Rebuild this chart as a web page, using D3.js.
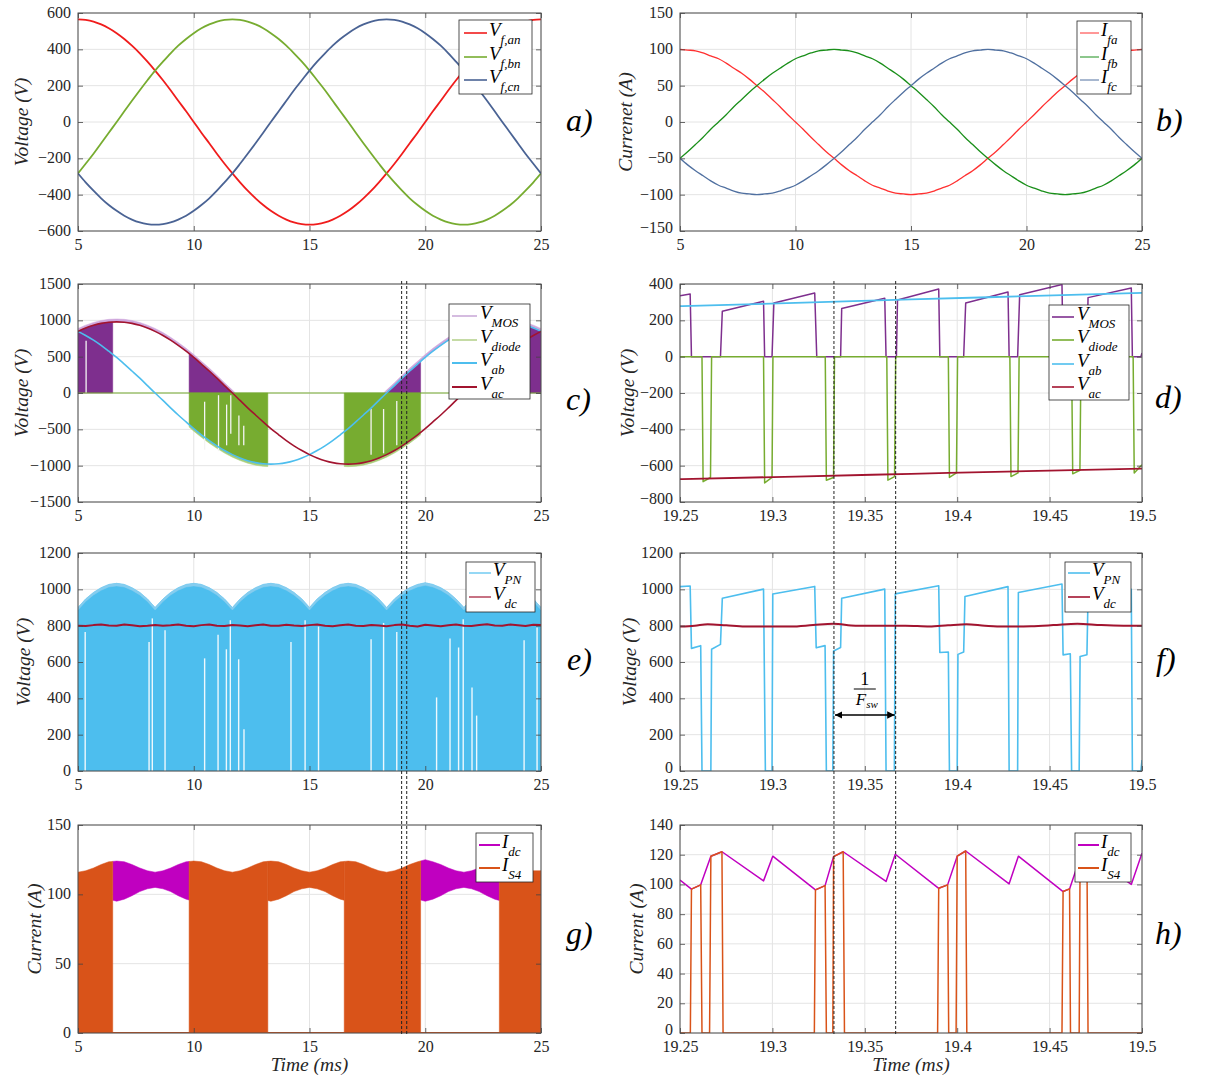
<!DOCTYPE html>
<html><head><meta charset="utf-8">
<script src="https://cdn.jsdelivr.net/npm/d3@7"></script>
<style>body{margin:0;background:#fff}svg{display:block}</style>
</head><body>
<svg id="chart" width="1206" height="1077"></svg>
<script>
// ---------------- DATA ----------------
// time grid (ms) for panels a, b, c, e, g
const tA = [5,5.33,5.67,6,6.33,6.67,7,7.33,7.67,8,8.33,8.67,9,9.33,9.67,10,10.33,10.67,11,11.33,11.67,12,12.33,12.67,13,13.33,13.67,14,14.33,14.67,15,15.33,15.67,16,16.33,16.67,17,17.33,17.67,18,18.33,18.67,19,19.33,19.67,20,20.33,20.67,21,21.33,21.67,22,22.33,22.67,23,23.33,23.67,24,24.33,24.67,25];

// a) filter phase voltages (V)
const vfAn = [565,562,553,537,516,489,457,420,378,332,283,230,175,117,59,0,-59,-117,-175,-230,-283,-332,-378,-420,-457,-489,-516,-537,-553,-562,-565,-562,-553,-537,-516,-489,-457,-420,-378,-332,-283,-230,-175,-117,-59,0,59,117,175,230,283,332,378,420,457,489,516,537,553,562,565];
const vfBn = [-283,-230,-175,-117,-59,0,59,117,175,230,283,332,378,420,457,489,516,537,553,562,565,562,553,537,516,489,457,420,378,332,283,230,175,117,59,0,-59,-117,-175,-230,-283,-332,-378,-420,-457,-489,-516,-537,-553,-562,-565,-562,-553,-537,-516,-489,-457,-420,-378,-332,-283];
const vfCn = [-283,-332,-378,-420,-457,-489,-516,-537,-553,-562,-565,-562,-553,-537,-516,-489,-457,-420,-378,-332,-283,-230,-175,-117,-59,0,59,117,175,230,283,332,378,420,457,489,516,537,553,562,565,562,553,537,516,489,457,420,378,332,283,230,175,117,59,0,-59,-117,-175,-230,-283];

// b) filter currents (A)
const ifA = [100,99,98,95,91,87,81,74,67,59,50,41,31,21,10,0,-10,-21,-31,-41,-50,-59,-67,-74,-81,-87,-91,-95,-98,-99,-100,-99,-98,-95,-91,-87,-81,-74,-67,-59,-50,-41,-31,-21,-10,0,10,21,31,41,50,59,67,74,81,87,91,95,98,99,100];
const ifB = [-50,-41,-31,-21,-10,0,10,21,31,41,50,59,67,74,81,87,91,95,98,99,100,99,98,95,91,87,81,74,67,59,50,41,31,21,10,0,-10,-21,-31,-41,-50,-59,-67,-74,-81,-87,-91,-95,-98,-99,-100,-99,-98,-95,-91,-87,-81,-74,-67,-59,-50];
const ifC = [-50,-59,-67,-74,-81,-87,-91,-95,-98,-99,-100,-99,-98,-95,-91,-87,-81,-74,-67,-59,-50,-41,-31,-21,-10,0,10,21,31,41,50,59,67,74,81,87,91,95,98,99,100,99,98,95,91,87,81,74,67,59,50,41,31,21,10,0,-10,-21,-31,-41,-50];

// c) line-to-line voltages (V)
const vAb = [848,792,727,655,575,490,398,303,204,102,0,-102,-204,-303,-398,-490,-575,-655,-727,-792,-848,-894,-931,-958,-974,-979,-974,-958,-931,-894,-848,-792,-727,-655,-575,-490,-398,-303,-204,-102,0,102,204,303,398,490,575,655,727,792,848,894,931,958,974,979,974,958,931,894,848];
const vAc = [848,894,931,958,974,979,974,958,931,894,848,792,727,655,575,490,398,303,204,102,0,-102,-204,-303,-398,-490,-575,-655,-727,-792,-848,-894,-931,-958,-974,-979,-974,-958,-931,-894,-848,-792,-727,-655,-575,-490,-398,-303,-204,-102,0,102,204,303,398,490,575,655,727,792,848];
// c) switching blocks (dense PWM shown as filled regions)
const mosBlockStart = [5, 9.8, 18.35, 24.2];
const mosBlockEnd   = [6.5, 11.75, 19.8, 25];
const mosBlockRef   = ['ac','ac','ab','ab'];
const mosFuzzStart = [5, 18.2];
const mosFuzzEnd   = [11.8, 25];
const mosFuzzRef   = ['ac','ab'];
const mosFuzz = 40;
const diodeBlockStart = [9.8, 16.5];
const diodeBlockEnd   = [13.2, 19.8];
const diodeBlockRef   = ['ab','ac'];
const diodeFuzz = 35;
const cGaps = [[5.35,720,0],[10.47,-120,-780],[11.07,-30,-800],[11.42,-160,-720],[11.6,-30,-560],[11.95,-310,-720],[12.16,-450,-720],[17.66,-220,-850],[18.2,-220,-830],[18.77,-110,-720]];

// d) zoomed switching voltages [t (ms), V]
const dMos = [[19.25,335],[19.2555,345],[19.2562,0],[19.2719,0],[19.2729,250],[19.2952,305],[19.2958,0],[19.2998,0],[19.3008,295],[19.3229,350],[19.324,0],[19.3369,0],[19.3375,265],[19.3608,322],[19.3615,0],[19.3671,0],[19.3677,312],[19.39,372],[19.3906,0],[19.4035,0],[19.4046,295],[19.4275,356],[19.4281,0],[19.4327,0],[19.4338,341],[19.4567,397],[19.4573,0],[19.4702,0],[19.4708,325],[19.4942,378],[19.4948,0],[19.4994,0],[19.5,20]];
const dDiode = [[19.25,0],[19.2619,0],[19.2625,-688],[19.2665,-665],[19.2671,0],[19.2952,0],[19.2958,-695],[19.2998,-665],[19.3003,0],[19.3286,0],[19.3292,-680],[19.3331,-665],[19.3336,0],[19.3619,0],[19.3625,-680],[19.3661,-660],[19.3667,0],[19.3952,0],[19.3958,-665],[19.3996,-640],[19.4002,0],[19.4285,0],[19.4291,-660],[19.4329,-640],[19.4335,0],[19.4619,0],[19.4625,-645],[19.4664,-625],[19.467,0],[19.4952,0],[19.4958,-640],[19.5,-595]];
const dAb = [[19.25,278],[19.3125,296],[19.375,315],[19.4375,333],[19.5,351]];
const dAc = [[19.25,-674],[19.3125,-660],[19.375,-645],[19.4375,-630],[19.5,-616]];

// e) DC-link voltages
const vpnEnv = [900,947,983,1009,1027,1033,1027,1009,983,947,900,947,983,1009,1027,1033,1027,1009,983,947,900,947,983,1009,1027,1033,1027,1009,983,947,900,947,983,1009,1027,1033,1027,1009,983,947,900,947,983,1009,1027,1036,1027,1009,983,947,900,947,983,1009,1027,1033,1027,1009,983,947,900];
const vdcE = [800,798,803,806,801,799,807,802,797,800,804,799,802,806,800,797,803,807,800,798,804,801,797,802,806,799,800,805,801,798,803,807,799,797,802,806,800,798,804,801,797,803,806,799,795,805,801,797,802,806,800,798,804,808,801,799,806,802,798,805,803];
const eGaps = [[5.31,765],[8.07,710],[8.21,840],[8.76,775],[10.47,620],[11.05,750],[11.41,670],[11.58,830],[11.94,615],[12.17,230],[14.2,710],[14.81,830],[15.39,795],[17.66,725],[18.2,815],[18.77,765],[20.49,405],[21.07,730],[21.44,680],[21.64,835],[22.02,460],[22.22,305],[24.27,720],[24.83,790]];

// f) zoomed DC-link voltages [t, V]
const fPn = [[19.25,1015],[19.2555,1018],[19.2562,675],[19.2612,690],[19.2619,0],[19.2667,0],[19.2671,670],[19.2719,697],[19.2729,951],[19.2952,1001],[19.2962,0],[19.2998,0],[19.3002,974],[19.3229,1016],[19.3237,678],[19.3285,690],[19.3292,0],[19.3327,0],[19.3331,661],[19.3369,680],[19.3375,951],[19.3608,1001],[19.3615,0],[19.366,0],[19.3665,975],[19.39,1020],[19.3906,652],[19.3952,655],[19.3958,0],[19.4,0],[19.4004,642],[19.4035,655],[19.4042,961],[19.4275,1015],[19.4281,0],[19.4327,0],[19.4331,983],[19.4567,1029],[19.4573,639],[19.4612,645],[19.4619,0],[19.466,0],[19.4665,630],[19.4702,640],[19.4708,960],[19.4942,1000],[19.4948,0],[19.4994,0],[19.5,60]];
const fDc = [[19.25,795],[19.258,800],[19.265,808],[19.275,802],[19.285,795],[19.3,796],[19.31,795],[19.322,803],[19.333,810],[19.345,800],[19.36,799],[19.372,800],[19.385,795],[19.395,802],[19.405,808],[19.415,800],[19.425,795],[19.44,797],[19.452,803],[19.465,811],[19.478,803],[19.49,800],[19.5,800]];

// g) currents
const idcUpper = [116,117,119,121.5,123.5,124,123.5,121.5,119,117,116,117,119,121.5,123.5,124,123.5,121.5,119,117,116,117,119,121.5,123.5,124,123.5,121.5,119,117,116,117,119,121.5,123.5,124,123.5,121.5,119,117,116,117,119,121.5,123.5,125,123.5,121.5,119,117,116,117,119,121.5,123.5,124,123.5,121.5,119,117,117];
const idcLower = [105,104,102,99,96.5,95,96.5,99,102,104,105,104,102,99,96.5,95,96.5,99,102,104,105,104,102,99,96.5,95,96.5,99,102,104,105,104,102,99,96.5,95,96.5,99,102,104,105,104,102,99,96.5,95,96.5,99,102,104,105,104,102,99,96.5,95,96.5,99,102,104,105];
const is4BlockStart = [5, 9.8, 16.5, 23.2];
const is4BlockEnd   = [6.5, 13.2, 19.8, 25];
const idcBandStart = [6.5, 19.8];
const idcBandEnd   = [9.8, 23.2];
const is4BandStart = [13.2];
const is4BandEnd   = [16.5];

// h) zoomed currents [t, A]
const hIdc = [[19.25,103],[19.2562,96.8],[19.2612,99.7],[19.2667,119],[19.2727,122],[19.2952,102.4],[19.3002,119],[19.3233,96.3],[19.3285,99.2],[19.3331,118.7],[19.3383,122],[19.3615,102],[19.3665,120.3],[19.39,97.4],[19.3948,99.7],[19.4,119],[19.4046,122.5],[19.4281,100.4],[19.4331,119],[19.4573,95.2],[19.4608,97],[19.4665,118],[19.4702,121],[19.4942,100],[19.5,121]];
const hIs4 = [[19.25,0],[19.2556,0],[19.2562,96.8],[19.2612,99.7],[19.2619,0],[19.266,0],[19.2667,119],[19.2727,122],[19.2733,0],[19.3227,0],[19.3233,96.3],[19.3285,99.2],[19.3292,0],[19.3327,0],[19.3331,118.7],[19.3383,122],[19.339,0],[19.3894,0],[19.39,97.4],[19.3948,99.7],[19.3954,0],[19.3994,0],[19.4,119],[19.4046,122.5],[19.4052,0],[19.4567,0],[19.4573,95.2],[19.4608,97],[19.4613,0],[19.466,0],[19.4665,118],[19.4702,121],[19.4708,0],[19.5,0]];

// ticks
const xTicksL = [5,10,15,20,25];
const xTicksR = [19.25,19.3,19.35,19.4,19.45,19.5];
const yTicksA = [-600,-400,-200,0,200,400,600];
const yTicksB = [-150,-100,-50,0,50,100,150];
const yTicksC = [-1500,-1000,-500,0,500,1000,1500];
const yTicksD = [-800,-600,-400,-200,0,200,400];
const yTicksE = [0,200,400,600,800,1000,1200];
const yTicksG = [0,50,100,150];
const yTicksH = [0,20,40,60,80,100,120,140];
const dashLeft = [18.98, 19.2];
const dashRight = [19.3333, 19.3667];

// ---------------- DRAWING ----------------
const FONT = "'Liberation Serif','DejaVu Serif',serif";
const svg = d3.select('#chart');
const defs = svg.append('defs');
const colL = [78, 541], colR = [680, 1142];
const rows = [[13,231],[284,502],[553,771],[825,1033]];
let nClip = 0;

function interp(ts, vs, t){
  let i = d3.bisectRight(ts, t);
  i = Math.max(1, Math.min(ts.length-1, i));
  const a = ts[i-1], b = ts[i];
  return vs[i-1] + (vs[i]-vs[i-1])*(t-a)/(b-a);
}
function seg(ts, vs, a, b){
  const pts = [[a, interp(ts,vs,a)]];
  ts.forEach((t,i)=>{ if (t>a && t<b) pts.push([t, vs[i]]); });
  pts.push([b, interp(ts,vs,b)]);
  return pts;
}
const zip = (ts, vs) => ts.map((t,i)=>[t, vs[i]]);

function makePanel(col, row, xd, yd){
  const [x0,x1] = col, [y0,y1] = rows[row];
  const x = d3.scaleLinear().domain(xd).range([x0,x1]);
  const y = d3.scaleLinear().domain(yd).range([y1,y0]);
  const g = svg.append('g');
  const grid = g.append('g');
  const id = 'cp' + (nClip++);
  defs.append('clipPath').attr('id', id).append('rect')
    .attr('x', x0).attr('y', y0).attr('width', x1-x0).attr('height', y1-y0);
  const plot = g.append('g').attr('clip-path', `url(#${id})`);
  const over = g.append('g');
  return {x, y, g, grid, plot, over, x0, x1, y0, y1, right: col === colR};
}
function lineOf(p, curve){
  const l = d3.line().x(d=>p.x(d[0])).y(d=>p.y(d[1]));
  if (curve) l.curve(curve);
  return l;
}
function path(p, data, color, w, curve){
  p.plot.append('path').attr('d', lineOf(p, curve)(data)).attr('fill','none')
    .attr('stroke', color).attr('stroke-width', w).attr('stroke-linejoin','round');
}
function areaPath(p, data, y0fn, y1fn, color){
  const a = d3.area().x(d=>p.x(d[0])).y0(d=>p.y(y0fn(d))).y1(d=>p.y(y1fn(d)));
  p.plot.append('path').attr('d', a(data)).attr('fill', color).attr('stroke', color).attr('stroke-width', 0.5);
}
function finish(p, xt, yt, ylab, ylabX, label, labX, labY){
  const fmt = d => String(d).replace('-', '\u2212');
  p.grid.selectAll('.gx').data(xt).join('line').attr('x1',d=>p.x(d)).attr('x2',d=>p.x(d))
    .attr('y1',p.y0).attr('y2',p.y1).attr('stroke','#e4e4e4').attr('stroke-width',1);
  p.grid.selectAll('.gy').data(yt).join('line').attr('y1',d=>p.y(d)).attr('y2',d=>p.y(d))
    .attr('x1',p.x0).attr('x2',p.x1).attr('stroke','#e4e4e4').attr('stroke-width',1);
  const ax = p.g.append('g');
  ax.append('g').attr('transform',`translate(0,${p.y1})`)
    .call(d3.axisBottom(p.x).tickValues(xt).tickSizeInner(-5).tickSizeOuter(0).tickPadding(8).tickFormat(fmt));
  ax.append('g').attr('transform',`translate(0,${p.y0})`)
    .call(d3.axisTop(p.x).tickValues(xt).tickSizeInner(-5).tickSizeOuter(0).tickFormat(''));
  const yax = ax.append('g').attr('transform',`translate(${p.x0},0)`)
    .call(d3.axisLeft(p.y).tickValues(yt).tickSizeInner(-5).tickSizeOuter(0).tickPadding(7).tickFormat(fmt));
  const ymin = d3.min(yt);
  yax.selectAll('.tick text').attr('dy', d => (p.right && d === ymin) ? '0.1em' : '0.28em');
  ax.append('g').attr('transform',`translate(${p.x1},0)`)
    .call(d3.axisRight(p.y).tickValues(yt).tickSizeInner(-5).tickSizeOuter(0).tickFormat(''));
  ax.selectAll('.domain').remove();
  ax.selectAll('.tick line').attr('stroke','#444').attr('stroke-width',0.8);
  ax.selectAll('.tick text').attr('font-family',FONT).attr('font-size',16).attr('fill','#262626');
  ax.append('rect').attr('x',p.x0).attr('y',p.y0).attr('width',p.x1-p.x0).attr('height',p.y1-p.y0)
    .attr('fill','none').attr('stroke','#4d4d4d').attr('stroke-width',1);
  svg.append('text').attr('transform',`translate(${ylabX},${(p.y0+p.y1)/2}) rotate(-90)`)
    .attr('text-anchor','middle').attr('font-family',FONT).attr('font-style','italic')
    .attr('font-size',19.5).attr('fill','#262626').text(ylab);
  svg.append('text').attr('x',labX).attr('y',labY).attr('font-family',FONT).attr('font-style','italic')
    .attr('font-size',32).attr('fill','#000').text(label);
}
function legend(p, box, lx, tx, items){
  const lg = p.over.append('g');
  lg.append('rect').attr('x',box[0]).attr('y',box[1]).attr('width',box[2]).attr('height',box[3])
    .attr('fill','#fff').attr('stroke','#262626').attr('stroke-width',0.8);
  items.forEach(it => {
    lg.append('line').attr('x1',lx[0]).attr('x2',lx[1]).attr('y1',it.ly).attr('y2',it.ly)
      .attr('stroke',it.c).attr('stroke-width',it.w || 1.6);
    const t = lg.append('text').attr('x',tx).attr('y',it.ly+3).attr('font-family',FONT)
      .attr('font-style','italic').attr('font-size',19).attr('fill','#000');
    t.append('tspan').text(it.m);
    t.append('tspan').attr('dy',8).attr('font-size',13).text(it.s);
  });
}

const RED='#f01c1c', GRN='#77ac30', BLU='#4a6394', CYAN='#4dbeee', DRED='#a2142f', PURP='#7e2f8e', MAG='#c000c0', ORG='#d95319';

// ---- a ----
const pa = makePanel(colL, 0, [5,25], [-600,600]);
path(pa, zip(tA,vfAn), RED, 1.8, d3.curveMonotoneX);
path(pa, zip(tA,vfBn), GRN, 1.8, d3.curveMonotoneX);
path(pa, zip(tA,vfCn), BLU, 1.8, d3.curveMonotoneX);
finish(pa, xTicksL, yTicksA, 'Voltage (V)', 28, 'a)', 566, 131);
legend(pa, [459,20,73,74], [464,487], 489, [
  {c:RED, m:'V', s:'f,an', ly:33},{c:GRN, m:'V', s:'f,bn', ly:57},{c:BLU, m:'V', s:'f,cn', ly:80}]);

// ---- b ----
const pb = makePanel(colR, 0, [5,25], [-150,150]);
path(pb, zip(tA,ifA), '#ff3030', 1.3, d3.curveMonotoneX);
path(pb, zip(tA,ifB), '#1a8f1a', 1.3, d3.curveMonotoneX);
path(pb, zip(tA,ifC), '#5070a0', 1.3, d3.curveMonotoneX);
finish(pb, xTicksL, yTicksB, 'Currenet (A)', 632, 'b)', 1156, 131);
legend(pb, [1077,21,54,73], [1080,1099], 1101, [
  {c:'#ff3030', m:'I', s:'fa', ly:33, w:1},{c:'#1a8f1a', m:'I', s:'fb', ly:57, w:1},{c:'#5070a0', m:'I', s:'fc', ly:80, w:1}]);

// ---- c ----
const pc = makePanel(colL, 1, [5,25], [-1500,1500]);
const refC = {ab: vAb, ac: vAc};
mosFuzzStart.forEach((a,i)=>{
  const pts = seg(tA, refC[mosFuzzRef[i]], a, mosFuzzEnd[i]);
  areaPath(pc, pts, d=>d[1], d=>d[1]+mosFuzz, '#cfa6dc');
});
mosBlockStart.forEach((a,i)=>{
  const pts = seg(tA, refC[mosBlockRef[i]], a, mosBlockEnd[i]);
  areaPath(pc, pts, d=>0, d=>d[1], PURP);
});
diodeBlockStart.forEach((a,i)=>{
  const pts = seg(tA, refC[diodeBlockRef[i]], a, diodeBlockEnd[i]);
  areaPath(pc, pts, d=>d[1]-diodeFuzz, d=>d[1], '#a9cf7a');
  areaPath(pc, pts, d=>0, d=>d[1], GRN);
});
pc.plot.selectAll('.gap').data(cGaps).join('line')
  .attr('x1',d=>pc.x(d[0])).attr('x2',d=>pc.x(d[0])).attr('y1',d=>pc.y(d[1])).attr('y2',d=>pc.y(d[2]))
  .attr('stroke','#f4f4f4').attr('stroke-width',1.3);
path(pc, [[5,0],[25,0]], GRN, 1.2);
path(pc, zip(tA,vAb), CYAN, 1.6, d3.curveMonotoneX);
path(pc, zip(tA,vAc), DRED, 1.6, d3.curveMonotoneX);
finish(pc, xTicksL, yTicksC, 'Voltage (V)', 28, 'c)', 566, 410);
legend(pc, [449,304,81,95], [452,477], 480, [
  {c:'#b98fcb', m:'V', s:'MOS', ly:316, w:1.2},{c:'#9fc46a', m:'V', s:'diode', ly:340, w:1.2},
  {c:CYAN, m:'V', s:'ab', ly:363, w:2},{c:DRED, m:'V', s:'ac', ly:387, w:2}]);

// ---- d ----
const pd = makePanel(colR, 1, [19.25,19.5], [-800,400]);
path(pd, dMos, PURP, 1.5);
path(pd, dDiode, GRN, 1.5);
path(pd, dAb, CYAN, 1.8, d3.curveMonotoneX);
path(pd, dAc, DRED, 1.8, d3.curveMonotoneX);
finish(pd, xTicksR, yTicksD, 'Voltage (V)', 634, 'd)', 1155, 408);
legend(pd, [1049,305,80,95], [1052,1074], 1077, [
  {c:PURP, m:'V', s:'MOS', ly:317},{c:GRN, m:'V', s:'diode', ly:340},
  {c:CYAN, m:'V', s:'ab', ly:364},{c:DRED, m:'V', s:'ac', ly:387}]);

// ---- e ----
const pe = makePanel(colL, 2, [5,25], [0,1200]);
const envPts = zip(tA, vpnEnv);
areaPath(pe, envPts, d=>0, d=>d[1], CYAN);
areaPath(pe, envPts, d=>d[1]-14, d=>d[1], '#86cdef');
pe.plot.selectAll('.gap').data(eGaps).join('line')
  .attr('x1',d=>pe.x(d[0])).attr('x2',d=>pe.x(d[0])).attr('y1',d=>pe.y(d[1])).attr('y2',pe.y(0))
  .attr('stroke','#eef8fd').attr('stroke-width',1.4);
path(pe, zip(tA, vdcE), DRED, 2);
finish(pe, xTicksL, yTicksE, 'Voltage (V)', 30, 'e)', 567, 670);
legend(pe, [466,562,69,50], [469,491], 493, [
  {c:CYAN, m:'V', s:'PN', ly:573, w:1.2},{c:DRED, m:'V', s:'dc', ly:597, w:1.2}]);

// ---- f ----
const pf = makePanel(colR, 2, [19.25,19.5], [0,1200]);
path(pf, fPn, CYAN, 1.6);
path(pf, fDc, DRED, 2, d3.curveMonotoneX);
finish(pf, xTicksR, yTicksE, 'Voltage (V)', 636, 'f)', 1156, 670);
legend(pf, [1065,562,66,50], [1068,1090], 1092, [
  {c:CYAN, m:'V', s:'PN', ly:573},{c:DRED, m:'V', s:'dc', ly:597}]);

// ---- g ----
const pg = makePanel(colL, 3, [5,25], [0,150]);
idcBandStart.forEach((a,i)=>{
  const up = seg(tA, idcUpper, a, idcBandEnd[i]);
  const lo = seg(tA, idcLower, a, idcBandEnd[i]);
  areaPath(pg, up.map((d,j)=>[d[0], d[1], lo[j][1]]), d=>d[2], d=>d[1], MAG);
});
is4BandStart.forEach((a,i)=>{
  const up = seg(tA, idcUpper, a, is4BandEnd[i]);
  const lo = seg(tA, idcLower, a, is4BandEnd[i]);
  areaPath(pg, up.map((d,j)=>[d[0], d[1], lo[j][1]]), d=>d[2], d=>d[1], ORG);
});
is4BlockStart.forEach((a,i)=>{
  areaPath(pg, seg(tA, idcUpper, a, is4BlockEnd[i]), d=>0, d=>d[1], ORG);
});
path(pg, [[5,0],[25,0]], ORG, 2);
finish(pg, xTicksL, yTicksG, 'Current (A)', 41, 'g)', 566, 944);
legend(pg, [476,833,57,49], [479,500], 502, [
  {c:MAG, m:'I', s:'dc', ly:845, w:2},{c:ORG, m:'I', s:'S4', ly:868, w:2}]);

// ---- h ----
const ph = makePanel(colR, 3, [19.25,19.5], [0,140]);
path(ph, hIdc, MAG, 1.5);
path(ph, hIs4, ORG, 1.5);
finish(ph, xTicksR, yTicksH, 'Current (A)', 643, 'h)', 1155, 944);
legend(ph, [1075,833,56,49], [1078,1099], 1101, [
  {c:MAG, m:'I', s:'dc', ly:845, w:2},{c:ORG, m:'I', s:'S4', ly:868, w:2}]);

// x labels
[pg, ph].forEach(p=>{
  svg.append('text').attr('x',(p.x0+p.x1)/2).attr('y',1071).attr('text-anchor','middle')
    .attr('font-family',FONT).attr('font-style','italic').attr('font-size',19.5).attr('fill','#262626').text('Time (ms)');
});

// dashed marker lines
const dash = svg.append('g');
dashLeft.forEach(t => dash.append('line').attr('x1',pc.x(t)).attr('x2',pc.x(t)).attr('y1',281).attr('y2',1035)
  .attr('stroke','#222').attr('stroke-width',1).attr('stroke-dasharray','3,2'));
dashRight.forEach(t => dash.append('line').attr('x1',pd.x(t)).attr('x2',pd.x(t)).attr('y1',281).attr('y2',1035)
  .attr('stroke','#222').attr('stroke-width',1).attr('stroke-dasharray','3,2'));

// 1/Fsw annotation
defs.append('marker').attr('id','ah').attr('viewBox','0 0 10 10').attr('refX',10).attr('refY',5)
  .attr('markerWidth',5).attr('markerHeight',5).attr('orient','auto-start-reverse')
  .append('path').attr('d','M0,0 L10,5 L0,10 z').attr('fill','#000');
const ax0 = pf.x(dashRight[0]) + 1, ax1 = pf.x(dashRight[1]) - 1;
svg.append('line').attr('x1',ax0).attr('x2',ax1).attr('y1',715).attr('y2',715)
  .attr('stroke','#000').attr('stroke-width',1.5).attr('marker-start','url(#ah)').attr('marker-end','url(#ah)');
const fx = (ax0+ax1)/2;
svg.append('text').attr('x',fx).attr('y',685).attr('text-anchor','middle').attr('font-family',FONT).attr('font-size',18).text('1');
svg.append('line').attr('x1',fx-11).attr('x2',fx+11).attr('y1',689).attr('y2',689).attr('stroke','#000').attr('stroke-width',1);
const ft = svg.append('text').attr('x',fx-9).attr('y',705).attr('font-family',FONT).attr('font-style','italic').attr('font-size',17);
ft.append('tspan').text('F');
ft.append('tspan').attr('dy',3).attr('font-size',11).text('sw');
</script>
</body></html>
